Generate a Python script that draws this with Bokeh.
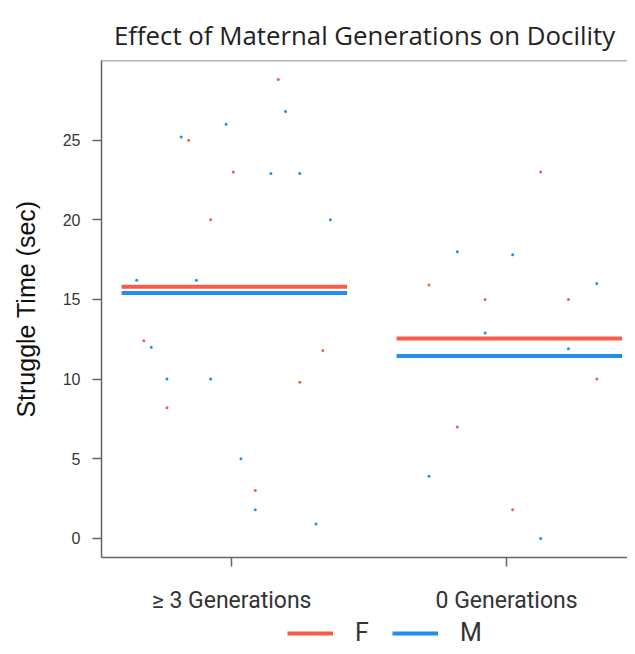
from bokeh.plotting import figure
from bokeh.models import Range1d, FixedTicker, Span, Legend, LegendItem
from bokeh.layouts import column
from bokeh.embed import file_html
from bokeh.resources import INLINE

# ---- data ----
groups = ["≥ 3 Generations", "0 Generations"]
group_pos = [1, 2]
sexes = ["F", "M"]

# Female points: group index, horizontal jitter, struggle time
f_group = [0, 0, 0, 0, 0, 0, 0, 0, 0, 1, 1, 1, 1, 1, 1, 1]
f_jitter = [0.17, -0.156, 0.006, -0.076, -0.319, -0.235, 0.332, 0.248, 0.086,
            0.124, -0.282, -0.078, 0.225, 0.328, -0.179, 0.022]
f_time = [28.8, 25.0, 23.0, 20.0, 12.4, 8.2, 11.8, 9.8, 3.0,
          23.0, 15.9, 15.0, 15.0, 10.0, 7.0, 1.8]

# Male points
m_group = [0] * 14 + [1] * 7
m_jitter = [-0.345, -0.128, 0.196, -0.02, -0.183, 0.143, 0.248, 0.359, -0.292,
            -0.235, -0.076, 0.034, 0.086, 0.307,
            -0.179, 0.022, 0.328, -0.078, 0.225, -0.282, 0.124]
m_time = [16.2, 16.2, 26.8, 26.0, 25.2, 22.9, 22.9, 20.0, 12.0,
          10.0, 10.0, 5.0, 1.8, 0.9,
          18.0, 17.8, 16.0, 12.9, 11.9, 3.9, 0.0]

# group means (horizontal lines)
f_mean = [15.8, 12.55]
m_mean = [15.4, 11.45]

RED = "#FA5A48"
BLUE = "#1E8EF2"
LINE_HALF_LEFT = 0.40
LINE_HALF_RIGHT = 0.42

p = figure(frame_width=526, frame_height=497, output_backend="svg", toolbar_location=None,
           x_range=Range1d(0.527, 2.4397), y_range=Range1d(-1.2, 30),
           min_border_left=101, min_border_right=0, min_border_top=60,
           min_border_bottom=58)

p.title.text = "Effect of Maternal Generations on Docility"
p.title.text_font = "Open Sans"
p.title.text_font_size = "25.8px"
p.title.text_font_style = "normal"
p.title.text_color = "#222222"
p.title.align = "center"
p.title.standoff = 16

p.outline_line_color = None
p.xgrid.grid_line_color = None
p.ygrid.grid_line_color = None
p.background_fill_color = "white"
p.border_fill_color = "white"

# points
fx = [group_pos[g] + j for g, j in zip(f_group, f_jitter)]
mx = [group_pos[g] + j for g, j in zip(m_group, m_jitter)]
p.scatter(fx, f_time, size=3, color=RED, line_color=None)
p.scatter(mx, m_time, size=3, color=BLUE, line_color=None)

# mean lines
p.segment(x0=[g - LINE_HALF_LEFT for g in group_pos], x1=[g + LINE_HALF_RIGHT for g in group_pos],
          y0=f_mean, y1=f_mean, line_color=RED, line_width=4)
p.segment(x0=[g - LINE_HALF_LEFT for g in group_pos], x1=[g + LINE_HALF_RIGHT for g in group_pos],
          y0=m_mean, y1=m_mean, line_color=BLUE, line_width=4)

# top border
p.add_layout(Span(location=30, dimension="width", line_color="#666666", line_width=1.5))

# axes
for ax in (p.xaxis[0], p.yaxis[0]):
    ax.axis_line_color = "#666666"
    ax.axis_line_width = 1.5
    ax.major_tick_line_color = "#666666"
    ax.major_tick_line_width = 1.5
    ax.major_tick_out = 9
    ax.major_tick_in = 0
    ax.minor_tick_line_color = None

p.yaxis.ticker = FixedTicker(ticks=[0, 5, 10, 15, 20, 25])
p.yaxis.major_label_text_font = "Liberation Sans"
p.yaxis.major_label_text_font_size = "16px"
p.yaxis.major_label_text_color = "#363636"
p.yaxis.major_label_standoff = 12
p.yaxis.axis_label = "Struggle Time (sec)"
p.yaxis.axis_label_text_font = "Liberation Sans"
p.yaxis.axis_label_text_font_size = "25px"
p.yaxis.axis_label_text_font_style = "normal"
p.yaxis.axis_label_text_color = "#111111"
p.yaxis.axis_label_standoff = 20

p.xaxis.ticker = FixedTicker(ticks=group_pos)
p.xaxis.major_label_overrides = {pos: name for pos, name in zip(group_pos, groups)}
p.xaxis.major_label_text_font = "Roboto"
p.xaxis.major_label_text_font_size = "23px"
p.xaxis.major_label_text_color = "#333333"
p.xaxis.major_label_standoff = 20

# ---- legend strip below the chart ----
lg = figure(frame_width=627, frame_height=31, output_backend="svg", toolbar_location=None,
            x_range=Range1d(0, 1), y_range=Range1d(0, 1),
            x_axis_location=None, y_axis_location=None,
            min_border_left=0, min_border_right=0, min_border_top=0, min_border_bottom=0)
lg.outline_line_color = None
lg.xgrid.grid_line_color = None
lg.ygrid.grid_line_color = None
# legend proxies (kept outside the visible range of this strip)
lr_f = lg.line(x=[5, 6], y=[5, 5], line_color=RED, line_width=4)
lr_m = lg.line(x=[5, 6], y=[5, 5], line_color=BLUE, line_width=4)

legend = Legend(items=[LegendItem(label=sexes[0], renderers=[lr_f]),
                       LegendItem(label=sexes[1], renderers=[lr_m])],
                orientation="horizontal", location=(287, 0),
                label_text_font="Roboto", label_text_font_size="25px", label_text_color="#333333",
                glyph_width=46, label_standoff=22, spacing=17,
                border_line_color=None, background_fill_alpha=0, padding=0, margin=0)
lg.add_layout(legend, "center")

layout = column(p, lg, spacing=0)
open("out.html", "w").write(file_html(layout, INLINE))
